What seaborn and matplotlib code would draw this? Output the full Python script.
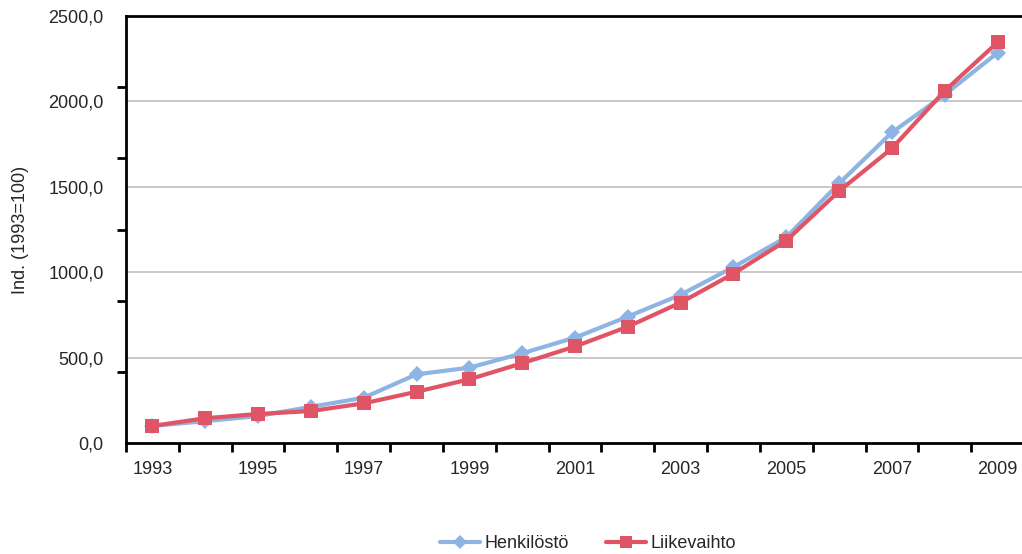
import numpy as np
import pandas as pd
import matplotlib
matplotlib.use("Agg")
import matplotlib.pyplot as plt
import seaborn as sns
from matplotlib.ticker import FixedLocator, FuncFormatter

years = list(range(1993, 2010))
henkilosto = [100, 128, 158, 212, 265, 402, 441, 525, 617, 740, 868, 1030, 1204, 1520, 1818, 2040, 2285]
liikevaihto = [100, 145, 170, 187, 232, 300, 373, 467, 565, 681, 822, 992, 1185, 1475, 1725, 2062, 2346]
series_names = ["Henkilöstö", "Liikevaihto"]
y_label = "Ind. (1993=100)"

df = pd.DataFrame({
    "Vuosi": years * 2,
    "Indeksi": henkilosto + liikevaihto,
    "Sarja": [series_names[0]] * len(years) + [series_names[1]] * len(years),
})

sns.set_theme(style="white")
plt.rcParams["font.family"] = ["Liberation Sans", "DejaVu Sans"]

fig = plt.figure(figsize=(10.22, 5.54), dpi=100)
ax = fig.add_axes([126 / 1022, 1 - 443 / 554, 898 / 1022, 427 / 554])

blue = "#8DB4E2"
red = "#E05566"
text_color = "#262626"

sns.lineplot(data=df, x="Vuosi", y="Indeksi", hue="Sarja", style="Sarja",
             markers={series_names[0]: "D", series_names[1]: "s"},
             dashes=False, palette={series_names[0]: blue, series_names[1]: red},
             linewidth=3, markeredgewidth=0, ax=ax, legend=False)
ax.lines[0].set_markersize(8)
ax.lines[1].set_markersize(10)

ax.set_xlim(years[0] - 0.5, years[-1] + 0.5)
ax.set_ylim(0, 2500)

# y axis: labels on the grid values, tick marks at sixths of the range
ax.yaxis.set_major_locator(FixedLocator(np.arange(0, 2501, 500)))
ax.yaxis.set_major_formatter(FuncFormatter(lambda v, p: f"{v:.1f}".replace(".", ",")))
ax.yaxis.set_minor_locator(FixedLocator(np.linspace(0, 2500, 7)))
ax.tick_params(axis="y", which="major", length=0, pad=16, labelsize=13, colors=text_color)
ax.tick_params(axis="y", which="minor", left=True, length=6.5, width=2, color="black", direction="out")

# x axis: labels every other year, tick marks between categories
ax.xaxis.set_major_locator(FixedLocator(years[::2]))
ax.xaxis.set_major_formatter(FuncFormatter(lambda v, p: f"{int(round(v))}"))
ax.xaxis.set_minor_locator(FixedLocator(np.arange(years[0] - 0.5, years[-1] + 1, 1)))
ax.tick_params(axis="x", which="major", length=0, pad=13, labelsize=13, colors=text_color)
ax.tick_params(axis="x", which="minor", bottom=True, length=6.5, width=2, color="black", direction="out")

ax.grid(False)
for v in range(500, 2500, 500):
    ax.axhline(v, color="#BFBFBF", linewidth=1.2, zorder=0)

for side in ["left", "bottom", "top"]:
    ax.spines[side].set_visible(True)
    ax.spines[side].set_color("black")
    ax.spines[side].set_linewidth(2)
ax.spines["right"].set_visible(False)

ax.set_xlabel("")
ax.set_ylabel(y_label, fontsize=13, color=text_color, labelpad=14)

handles = [plt.Line2D([], [], color=blue, marker="D", markersize=7, linewidth=3, markeredgewidth=0),
           plt.Line2D([], [], color=red, marker="s", markersize=9, linewidth=3, markeredgewidth=0)]
fig.legend(handles, series_names, loc="center", bbox_to_anchor=(588 / 1022, 1 - 544 / 554),
           ncol=2, frameon=False, fontsize=13, handlelength=2.2, columnspacing=2.1,
           handletextpad=0.25)

fig.savefig("out.png", dpi=100)
